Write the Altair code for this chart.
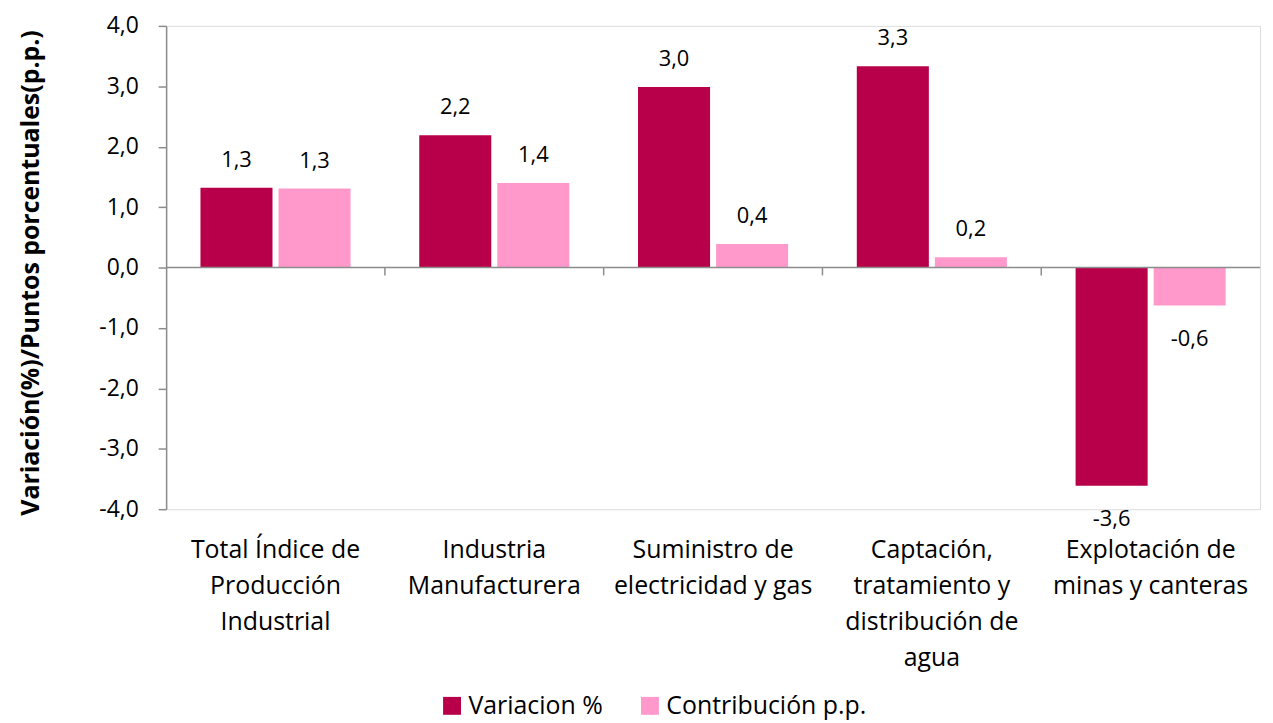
import altair as alt
import pandas as pd

categories = [
    "Total Índice de|Producción|Industrial",
    "Industria|Manufacturera",
    "Suministro de|electricidad y gas",
    "Captación,|tratamiento y|distribución de|agua",
    "Explotación de|minas y canteras",
]
series = ["Variacion %", "Contribución p.p."]
variacion = [1.32, 2.19, 2.99, 3.33, -3.61]
contribucion = [1.31, 1.40, 0.39, 0.17, -0.63]
y_ticks = [-4, -3, -2, -1, 0, 1, 2, 3, 4]
colors = ["#B8004A", "#FF99CC"]

rows = []
for c, v, p in zip(categories, variacion, contribucion):
    rows.append({"cat": c, "serie": series[0], "val": v})
    rows.append({"cat": c, "serie": series[1], "val": p})
df = pd.DataFrame(rows)
bounds = pd.DataFrame({"cat": categories[1:]})

FONT = "Open Sans"
W, H = 1100, 486

x_enc = alt.X(
    "cat:N",
    sort=categories,
    scale=alt.Scale(paddingInner=0, paddingOuter=0),
    axis=alt.Axis(
        title=None, domain=False, ticks=False, labelAngle=0,
        labelExpr="split(datum.label, '|')", labelFontSize=25,
        labelFont=FONT, labelColor="#000000", labelLimit=400,
        labelLineHeight=36, labelPadding=29, labelBaseline="top",
    ),
)
xoff = alt.XOffset(
    "serie:N", sort=series,
    scale=alt.Scale(paddingInner=0.077, paddingOuter=0.44),
)
y_enc = alt.Y(
    "val:Q",
    scale=alt.Scale(domain=[-4, 4], nice=False, zero=False),
    axis=alt.Axis(
        title="Variación(%)/Puntos porcentuales(p.p.)",
        values=y_ticks, grid=False, domain=True, domainColor="#8c8c8c",
        domainWidth=1.5, tickColor="#8c8c8c", tickWidth=1.5, tickSize=8,
        labelExpr="replace(replace(format(datum.value, '.1f'), '.', ','), '\u2212', '-')",
        labelFont=FONT, labelFontSize=23, labelColor="#000000", labelPadding=20,
        titleFont=FONT, titleFontSize=25, titleFontWeight="bold",
        titleColor="#000000", titleX=-136, titleY=H / 2 + 5, titleAngle=-90,
        titleAlign="center", titleBaseline="middle",
    ),
)

color = alt.Color(
    "serie:N", sort=series,
    scale=alt.Scale(domain=series, range=colors),
    legend=alt.Legend(
        title=None, orient="none", direction="horizontal",
        legendX=275, legendY=671, symbolType="square", symbolSize=324,
        symbolStrokeWidth=0, labelFont=FONT, labelFontSize=25,
        labelColor="#000000", labelOffset=4, columnPadding=34, padding=0,
        labelLimit=400,
    ),
)

base = alt.Chart(df)
bars = base.mark_bar().encode(x=x_enc, xOffset=xoff, y=y_enc, color=color)

lab_expr = "replace(replace(format(datum.val, '.1f'), '.', ','), '\u2212', '-')"
pos_labels = base.transform_filter("datum.val >= 0").transform_calculate(
    lab=lab_expr
).mark_text(font=FONT, fontSize=22, color="#000000", baseline="alphabetic",
            dy=-21).encode(x=x_enc, xOffset=xoff, y=y_enc, text="lab:N")
neg_labels = base.transform_filter("datum.val < 0").transform_calculate(
    lab=lab_expr
).mark_text(font=FONT, fontSize=22, color="#000000", baseline="alphabetic",
            dy=41).encode(x=x_enc, xOffset=xoff, y=y_enc, text="lab:N")

zero_line = alt.Chart(pd.DataFrame({"z": [0]})).mark_rule(
    color="#8c8c8c", strokeWidth=1.5
).encode(y=alt.Y("z:Q"))

sep_ticks = alt.Chart(bounds).transform_calculate(y0="0", y1="-0.13").mark_rule(
    color="#8c8c8c", strokeWidth=1.5
).encode(
    x=alt.X("cat:N", sort=categories, bandPosition=0),
    y=alt.Y("y0:Q"), y2="y1:Q",
)

chart = alt.layer(bars, zero_line, sep_ticks, pos_labels, neg_labels).properties(
    width=W, height=H,
    autosize=alt.AutoSizeParams(type="none"),
    padding={"left": 159, "top": 16, "right": 5, "bottom": 211},
).configure_view(stroke=None).configure(font=FONT)

chart.save("out.html", embed_options={"renderer": "svg", "actions": False})
